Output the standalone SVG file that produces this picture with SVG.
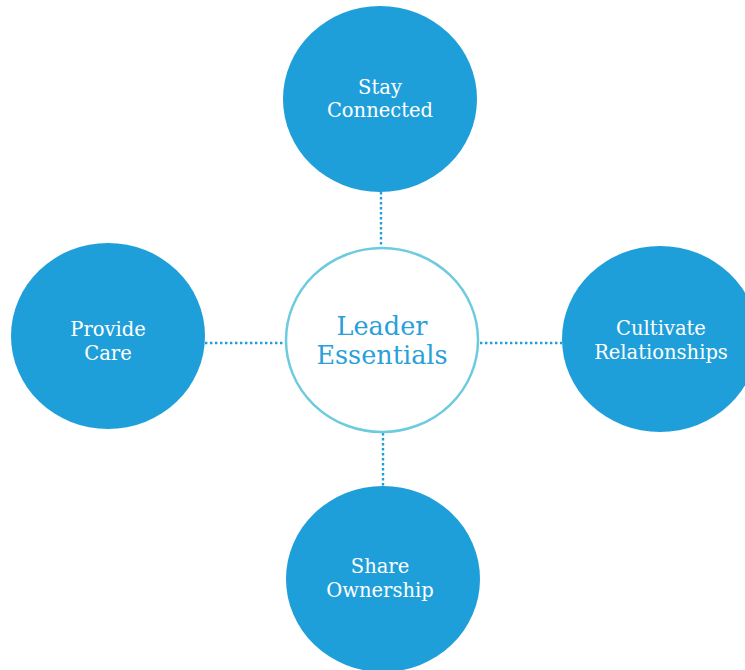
<svg xmlns="http://www.w3.org/2000/svg" width="745" height="670" viewBox="0 0 745 670">
<style>
.node{fill:#1f9fda}
.lbl{font-family:"DejaVu Serif","Liberation Serif",serif;font-size:19.5px;fill:#ffffff;text-anchor:middle}
.ctr{font-family:"DejaVu Serif","Liberation Serif",serif;font-size:25.5px;fill:#2a9fd9;text-anchor:middle}
.conn{stroke:#1f9fda;stroke-width:2.4;stroke-dasharray:2.4 2.6;fill:none}
</style>
<rect width="745" height="670" fill="#ffffff"/>
<g id="connectors">
<line class="conn" x1="381" y1="192" x2="381" y2="247"/>
<line class="conn" x1="383" y1="433" x2="383" y2="487"/>
<line class="conn" x1="205" y1="343" x2="285" y2="343"/>
<line class="conn" x1="480" y1="343" x2="562" y2="343"/>
</g>
<g id="center">
<ellipse cx="382" cy="340" rx="96" ry="92" fill="#ffffff" stroke="#6ccbde" stroke-width="2.5"/>
<text class="ctr" x="382" y="335">Leader</text>
<text class="ctr" x="382" y="364">Essentials</text>
</g>
<g id="stay-connected">
<ellipse class="node" cx="380" cy="99" rx="97" ry="93"/>
<text class="lbl" x="380" y="94">Stay</text>
<text class="lbl" x="380" y="117">Connected</text>
</g>
<g id="provide-care">
<ellipse class="node" cx="108" cy="336" rx="97" ry="93"/>
<text class="lbl" x="108" y="336">Provide</text>
<text class="lbl" x="108" y="360">Care</text>
</g>
<g id="cultivate-relationships">
<ellipse class="node" cx="660" cy="339" rx="98" ry="93"/>
<text class="lbl" x="661" y="335">Cultivate</text>
<text class="lbl" x="661" y="359">Relationships</text>
</g>
<g id="share-ownership">
<ellipse class="node" cx="383" cy="579" rx="97" ry="93"/>
<text class="lbl" x="380" y="573">Share</text>
<text class="lbl" x="380" y="597">Ownership</text>
</g>
</svg>
